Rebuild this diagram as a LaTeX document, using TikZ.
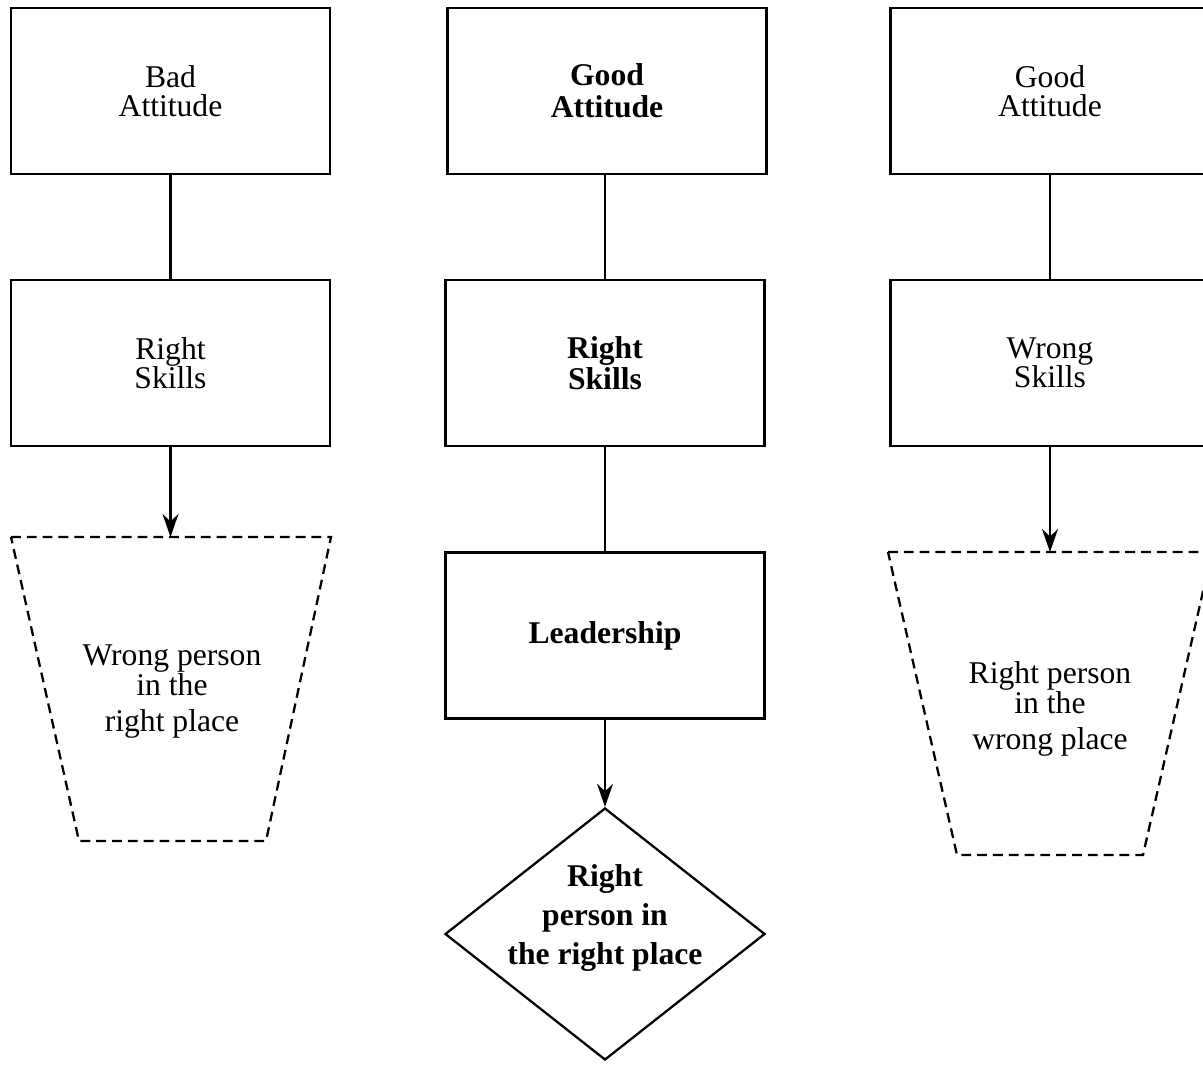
\documentclass[tikz,border=0pt]{standalone}
\usepackage{fontspec}
\setmainfont{Liberation Serif}
\usetikzlibrary{shapes.geometric,arrows.meta}

\begin{document}
\begin{tikzpicture}[auto,>={Stealth[length=2.3mm,width=1.6mm]}]
    \tikzstyle{every node}=[font=\fontsize{9}{8.4}\selectfont,align=center]
    \tikzstyle{box}=[draw,rectangle,line width=0.65pt,minimum width=3.19cm,minimum height=1.66cm,inner sep=0pt]
    \tikzstyle{heavy}=[font=\fontsize{9}{9}\selectfont\bfseries]
    \tikzstyle{dashbox}=[draw,line width=0.65pt,dash pattern=on 2.8pt off 1.7pt]
    \tikzstyle{decision}=[draw,diamond,line width=0.65pt,aspect=1.27,minimum width=3.2cm,minimum height=2.52cm,inner sep=0pt]
    \tikzstyle{link}=[line width=0.65pt]
    \useasboundingbox (0,0) rectangle (12.03,10.64);
    \clip (0,0) rectangle (12.03,10.64);
    %%% HELP LINES - uncomment to design/extend
    %\draw[step=1cm,gray,very thin] (0,0) grid (12,10);
    % Bad attitude, right skills
    \node at (1.705,9.73) [box] (BA) {Bad\\Attitude};
    \node at (1.705,7.01) [box] (BRS) {Right\\Skills};
    \coordinate (WPtop) at (1.705,5.27);
    \draw[dashbox] (0.11,5.27) -- (3.31,5.27) -- (2.66,2.23) -- (0.79,2.23) -- cycle;
    \node at (1.72,3.72) (WP) {Wrong person\\in the\\[2pt]right place};
    % Good attitude, right skills, leadership
    \node at (6.07,9.73) [box,heavy] (GA) {Good\\Attitude};
    \node at (6.05,7.01) [box,heavy] (GRS) {Right\\Skills};
    \node at (6.05,4.285) [box,heavy] (LD) {Leadership};
    \node at (6.05,1.30) [decision] (RPR) {};
    \node at (6.05,1.46) [font=\fontsize{9}{11.1}\selectfont\bfseries] (RPRtext) {Right\\person in\\the right place};
    % Good attitude, wrong skills
    \node at (10.50,9.73) [box] (GW) {Good\\Attitude};
    \node at (10.50,7.01) [box] (WS) {Wrong\\Skills};
    \coordinate (RPtop) at (10.50,5.12);
    \draw[dashbox] (8.88,5.12) -- (12.12,5.12) -- (11.43,2.09) -- (9.57,2.09) -- cycle;
    \node at (10.50,3.55) (RP) {Right person\\in the\\[2pt]wrong place};

    \path
    (BA) edge [link] (BRS)
    (BRS) edge [link,->] (WPtop)
    (GA.south -| GRS) edge [link] (GRS)
    (GRS) edge [link] (LD)
    (LD) edge [link,->] (RPR)
    (GW) edge [link] (WS)
    (WS) edge [link,->] (RPtop);
\end{tikzpicture}
\end{document}
